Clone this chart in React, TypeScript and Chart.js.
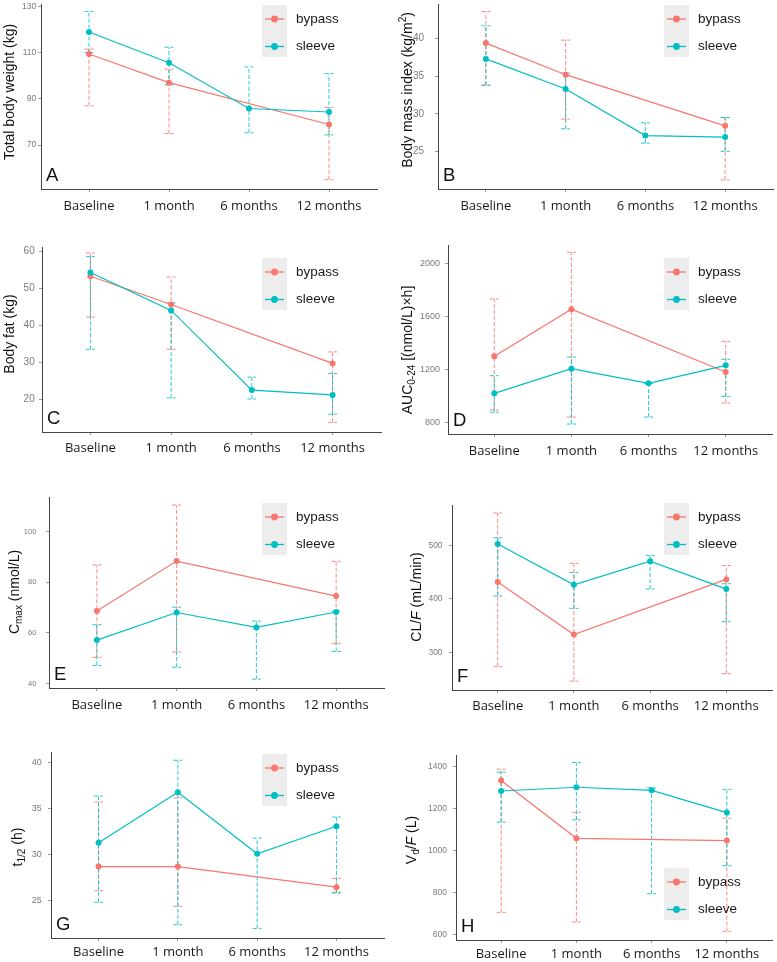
import React, { useEffect, useRef } from "react";
import { Chart, registerables } from "chart.js";
Chart.register(...registerables);

const BYPASS = "#F8766D";
const SLEEVE = "#00BFC4";
const SANS = "'Liberation Sans', Arial, sans-serif";
const XFONT = "'Open Sans', sans-serif";

const categories = ["Baseline", "1 month", "6 months", "12 months"];
const seriesNames = ["bypass", "sleeve"];

// A: total body weight (kg)
const weightBypass = [109.4, 97.0, null, 78.9];
const weightBypassLo = [87, 75, null, 55];
const weightBypassHi = [111.5, 102.8, null, 86.3];
const weightSleeve = [118.9, 105.6, 85.8, 84.3];
const weightSleeveLo = [110, 96, 75.3, 74.4];
const weightSleeveHi = [127.8, 112.3, 103.8, 100.9];
const weightTicks = [70, 90, 110, 130];

// B: BMI
const bmiBypass = [39.4, 35.2, null, 28.4];
const bmiBypassLo = [33.8, 29.3, null, 21.2];
const bmiBypassHi = [43.6, 39.8, null, 29.5];
const bmiSleeve = [37.3, 33.3, 27.1, 26.9];
const bmiSleeveLo = [33.8, 28.0, 26.1, 25.0];
const bmiSleeveHi = [41.7, 35.4, 28.8, 29.5];
const bmiTicks = [25, 30, 35, 40];

// C: body fat (kg)
const fatBypass = [53.2, 45.6, null, 29.7];
const fatBypassLo = [42.2, 33.5, null, 13.8];
const fatBypassHi = [59.5, 53.0, null, 32.8];
const fatSleeve = [54.2, 44.0, 22.5, 21.2];
const fatSleeveLo = [33.5, 20.4, 20.1, 16.0];
const fatSleeveHi = [58.5, 46.0, 26.0, 27.0];
const fatTicks = [20, 30, 40, 50, 60];

// D: AUC 0-24
const aucBypass = [1298, 1653, null, 1180];
const aucBypassLo = [893, 840, null, 946];
const aucBypassHi = [1731, 2083, null, 1411];
const aucSleeve = [1019, 1205, 1094, 1230];
const aucSleeveLo = [876, 787, 840, 996];
const aucSleeveHi = [1152, 1293, 1094, 1276];
const aucTicks = [800, 1200, 1600, 2000];

// E: Cmax
const cmaxBypass = [68.6, 88.3, null, 74.5];
const cmaxBypassLo = [50.3, 52.4, null, 55.7];
const cmaxBypassHi = [86.8, 110.4, null, 88.2];
const cmaxSleeve = [57.1, 68.0, 62.1, 68.2];
const cmaxSleeveLo = [47.1, 46.4, 41.7, 52.6];
const cmaxSleeveHi = [63.2, 70.1, 64.6, 68.6];
const cmaxTicks = [40, 60, 80, 100];

// F: CL/F
const clBypass = [431, 333, null, 436];
const clBypassLo = [273, 246, null, 260];
const clBypassHi = [560, 466, null, 462];
const clSleeve = [502, 426, 470, 418];
const clSleeveLo = [405, 382, 418, 357];
const clSleeveHi = [514, 449, 481, 428];
const clTicks = [300, 400, 500];

// G: t1/2
const thalfBypass = [28.7, 28.7, null, 26.45];
const thalfBypassLo = [26.05, 24.35, null, 25.9];
const thalfBypassHi = [35.75, 36.2, null, 27.4];
const thalfSleeve = [31.3, 36.8, 30.1, 33.1];
const thalfSleeveLo = [24.8, 22.35, 21.95, 25.8];
const thalfSleeveHi = [36.4, 40.3, 31.8, 34.1];
const thalfTicks = [25, 30, 35, 40];

// H: Vd/F
const vdBypass = [1335, 1059, null, 1048];
const vdBypassLo = [705, 659, null, 614];
const vdBypassHi = [1389, 1183, null, 1155];
const vdSleeve = [1285, 1303, 1288, 1182];
const vdSleeveLo = [1136, 1147, 794, 928];
const vdSleeveHi = [1375, 1421, 1300, 1293];
const vdTicks = [600, 800, 1000, 1200, 1400];

type Seg = { t: string; sub?: boolean; sup?: boolean; it?: boolean };

const panels = [
  {
    letter: "A", canvas: [0, 0, 388, 235], area: [41, 3, 377, 189],
    yMin: 51, yMax: 131, yTicks: weightTicks, yFont: 8.5, yGap: 4.7, xPad: 6,
    title: [{ t: "Total body weight (kg)" }] as Seg[], titlePos: [10, 92], legend: [262, 5],
    b: [weightBypass, weightBypassLo, weightBypassHi], s: [weightSleeve, weightSleeveLo, weightSleeveHi],
  },
  {
    letter: "B", canvas: [388, 0, 389, 235], area: [438, 3, 773, 189],
    yMin: 20, yMax: 44.6, yTicks: bmiTicks, yFont: 10, yGap: 14, xPad: 6,
    title: [{ t: "Body mass index (kg/m" }, { t: "2", sup: true }, { t: ")" }] as Seg[], titlePos: [408, 90], legend: [664, 5],
    b: [bmiBypass, bmiBypassLo, bmiBypassHi], s: [bmiSleeve, bmiSleeveLo, bmiSleeveHi],
  },
  {
    letter: "C", canvas: [0, 235, 388, 235], area: [42, 247, 381, 432],
    yMin: 11.2, yMax: 61.1, yTicks: fatTicks, yFont: 10, yGap: 7.3, xPad: 5,
    title: [{ t: "Body fat (kg)" }] as Seg[], titlePos: [10, 334], legend: [262, 258],
    b: [fatBypass, fatBypassLo, fatBypassHi], s: [fatSleeve, fatSleeveLo, fatSleeveHi],
  },
  {
    letter: "D", canvas: [388, 235, 389, 235], area: [448, 245, 772, 434],
    yMin: 712, yMax: 2138, yTicks: aucTicks, yFont: 9, yGap: 8, xPad: 6,
    title: [{ t: "AUC" }, { t: "0-24", sub: true }, { t: " [(nmol/L)×h]" }] as Seg[], titlePos: [408, 350], legend: [664, 258],
    b: [aucBypass, aucBypassLo, aucBypassHi], s: [aucSleeve, aucSleeveLo, aucSleeveHi],
  },
  {
    letter: "E", canvas: [0, 470, 388, 250], area: [49, 497, 388, 688],
    yMin: 38.2, yMax: 113.6, yTicks: cmaxTicks, yFont: 7.5, yGap: 12.7, xPad: 6,
    title: [{ t: "C" }, { t: "max", sub: true }, { t: " (nmol/L)" }] as Seg[], titlePos: [15, 592], legend: [262, 503],
    b: [cmaxBypass, cmaxBypassLo, cmaxBypassHi], s: [cmaxSleeve, cmaxSleeveLo, cmaxSleeveHi],
  },
  {
    letter: "F", canvas: [388, 470, 389, 250], area: [452, 505, 772, 690],
    yMin: 229.5, yMax: 575, yTicks: clTicks, yFont: 8.5, yGap: 9.4, xPad: 5,
    title: [{ t: "CL/" }, { t: "F", it: true }, { t: " (mL/min)" }] as Seg[], titlePos: [417, 597], legend: [664, 503],
    b: [clBypass, clBypassLo, clBypassHi], s: [clSleeve, clSleeveLo, clSleeveHi],
  },
  {
    letter: "G", canvas: [0, 720, 388, 242], area: [51, 752, 388, 938],
    yMin: 20.9, yMax: 41.2, yTicks: thalfTicks, yFont: 9, yGap: 9.3, xPad: 3,
    title: [{ t: "t" }, { t: "1/2", sub: true }, { t: " (h)" }] as Seg[], titlePos: [18.5, 847], legend: [262, 754],
    b: [thalfBypass, thalfBypassLo, thalfBypassHi], s: [thalfSleeve, thalfSleeveLo, thalfSleeveHi],
  },
  {
    letter: "H", canvas: [388, 720, 389, 242], area: [456, 755, 772, 940],
    yMin: 573, yMax: 1457, yTicks: vdTicks, yFont: 8.5, yGap: 9, xPad: 3,
    title: [{ t: "V" }, { t: "d", sub: true }, { t: "/" }, { t: "F", it: true }, { t: " (L)" }] as Seg[], titlePos: [412, 840], legend: [664, 868],
    b: [vdBypass, vdBypassLo, vdBypassHi], s: [vdSleeve, vdSleeveLo, vdSleeveHi],
  },
];

type P = typeof panels[number];

function makePlugin(p: P) {
  const [cl, ct] = p.canvas;
  return {
    id: "deco" + p.letter,
    beforeDatasetsDraw(chart: any) {
      const ctx = chart.ctx;
      const xs = chart.scales.x;
      const ys = chart.scales.y;
      const bars = (arr: any[], color: string) => {
        const lo = arr[1], hi = arr[2];
        ctx.save();
        ctx.strokeStyle = color;
        ctx.globalAlpha = 0.85;
        ctx.lineWidth = 1;
        ctx.setLineDash([4, 2]);
        for (let i = 0; i < categories.length; i++) {
          if (lo[i] == null || hi[i] == null) continue;
          const x = xs.getPixelForValue(i);
          const y1 = ys.getPixelForValue(lo[i]);
          const y2 = ys.getPixelForValue(hi[i]);
          ctx.beginPath();
          ctx.moveTo(x, y1); ctx.lineTo(x, y2);
          ctx.moveTo(x - 4.5, y1); ctx.lineTo(x + 4.5, y1);
          ctx.moveTo(x - 4.5, y2); ctx.lineTo(x + 4.5, y2);
          ctx.stroke();
        }
        ctx.restore();
      };
      bars(p.b, BYPASS);
      bars(p.s, SLEEVE);
    },
    afterDraw(chart: any) {
      const ctx = chart.ctx;
      const area = chart.chartArea;
      // y title
      ctx.save();
      ctx.translate(p.titlePos[0] - cl, p.titlePos[1] - ct);
      ctx.rotate(-Math.PI / 2);
      ctx.fillStyle = "#111";
      ctx.textBaseline = "middle";
      ctx.textAlign = "left";
      const fontOf = (s: Seg) => `${s.it ? "italic " : ""}${s.sub || s.sup ? 10 : 14}px ${SANS}`;
      let total = 0;
      for (const s of p.title) { ctx.font = fontOf(s); total += ctx.measureText(s.t).width; }
      let x = -total / 2;
      for (const s of p.title) {
        ctx.font = fontOf(s);
        const dy = s.sub ? 4 : s.sup ? -5 : 0;
        ctx.fillText(s.t, x, dy);
        x += ctx.measureText(s.t).width;
      }
      ctx.restore();
      // panel letter
      ctx.save();
      ctx.fillStyle = "#111";
      ctx.font = `18.5px ${SANS}`;
      ctx.textBaseline = "alphabetic";
      ctx.textAlign = "left";
      ctx.fillText(p.letter, area.left + 5, area.bottom - 8);
      ctx.restore();
      // legend
      ctx.save();
      const lx = p.legend[0] - cl;
      const ly = p.legend[1] - ct;
      ctx.fillStyle = "#EDEDED";
      ctx.fillRect(lx, ly, 25, 52);
      const rows = [
        { name: seriesNames[0], color: BYPASS, y: ly + 14 },
        { name: seriesNames[1], color: SLEEVE, y: ly + 41.5 },
      ];
      for (const r of rows) {
        ctx.strokeStyle = r.color;
        ctx.lineWidth = 1.3;
        ctx.beginPath();
        ctx.moveTo(lx + 3, r.y);
        ctx.lineTo(lx + 22, r.y);
        ctx.stroke();
        ctx.fillStyle = r.color;
        ctx.beginPath();
        ctx.arc(lx + 12.5, r.y, 3.4, 0, Math.PI * 2);
        ctx.fill();
        ctx.fillStyle = "#1a1a1a";
        ctx.font = `13.5px ${SANS}`;
        ctx.textBaseline = "middle";
        ctx.textAlign = "left";
        ctx.fillText(r.name, lx + 34, r.y);
      }
      ctx.restore();
    },
  };
}

function Panel({ p }: { p: P }) {
  const ref = useRef<HTMLCanvasElement | null>(null);
  useEffect(() => {
    const [cl, ct, cw, ch] = p.canvas;
    const [al, at, ar, ab] = p.area;
    const yw = al - cl;
    const xh = ct + ch - ab;
    const padTop = at - ct;
    const padRight = cl + cw - ar;
    const mk = (arr: any[], color: string, label: string) => ({
      label,
      data: arr[0].map((v: number | null, i: number) => ({ x: i, y: v })),
      borderColor: color,
      backgroundColor: color,
      pointBackgroundColor: color,
      pointBorderWidth: 0,
      pointRadius: 3,
      borderWidth: 1.2,
      spanGaps: true,
      tension: 0,
    });
    const chart = new Chart(ref.current as HTMLCanvasElement, {
      type: "line",
      data: { datasets: [mk(p.s, SLEEVE, seriesNames[1]), mk(p.b, BYPASS, seriesNames[0])] as any },
      options: {
        responsive: false,
        animation: false,
        devicePixelRatio: 1,
        layout: { padding: { top: padTop, right: padRight, left: 0, bottom: 0 } },
        plugins: { legend: { display: false }, tooltip: { enabled: false } },
        scales: {
          x: {
            type: "linear",
            min: -0.6,
            max: 3.6,
            afterBuildTicks: (s: any) => { s.ticks = categories.map((_, i) => ({ value: i })); },
            afterFit: (s: any) => { s.height = xh; s.paddingLeft = 0; s.paddingRight = 0; },
            ticks: {
              callback: (v: any) => categories[v] ?? "",
              font: { family: XFONT, size: 13 },
              color: "#1a1a1a",
              padding: p.xPad,
              maxRotation: 0,
              autoSkip: false,
            },
            grid: { drawOnChartArea: false, drawTicks: true, tickLength: 3, color: "#999" },
            border: { display: true, color: "#444", width: 1 },
          },
          y: {
            type: "linear",
            min: p.yMin,
            max: p.yMax,
            afterBuildTicks: (s: any) => { s.ticks = p.yTicks.map((v) => ({ value: v })); },
            afterFit: (s: any) => { s.width = yw; s.paddingTop = 0; s.paddingBottom = 0; },
            ticks: {
              callback: (v: any) => String(v),
              font: { family: SANS, size: p.yFont },
              color: "#7a7a7a",
              padding: Math.max(0, p.yGap - 3),
            },
            grid: { drawOnChartArea: false, drawTicks: true, tickLength: 3, color: "#999" },
            border: { display: true, color: "#444", width: 1 },
          },
        },
      } as any,
      plugins: [makePlugin(p)],
    });
    return () => chart.destroy();
  }, [p]);
  const [cl, ct, cw, ch] = p.canvas;
  return (
    <canvas
      ref={ref}
      width={cw}
      height={ch}
      style={{ position: "absolute", left: cl, top: ct, width: cw, height: ch }}
    />
  );
}

export default function App() {
  return (
    <div style={{ position: "absolute", left: 0, top: 0, width: 777, height: 962, background: "#fff", overflow: "hidden" }}>
      {panels.map((p) => (
        <Panel key={p.letter} p={p} />
      ))}
    </div>
  );
}
